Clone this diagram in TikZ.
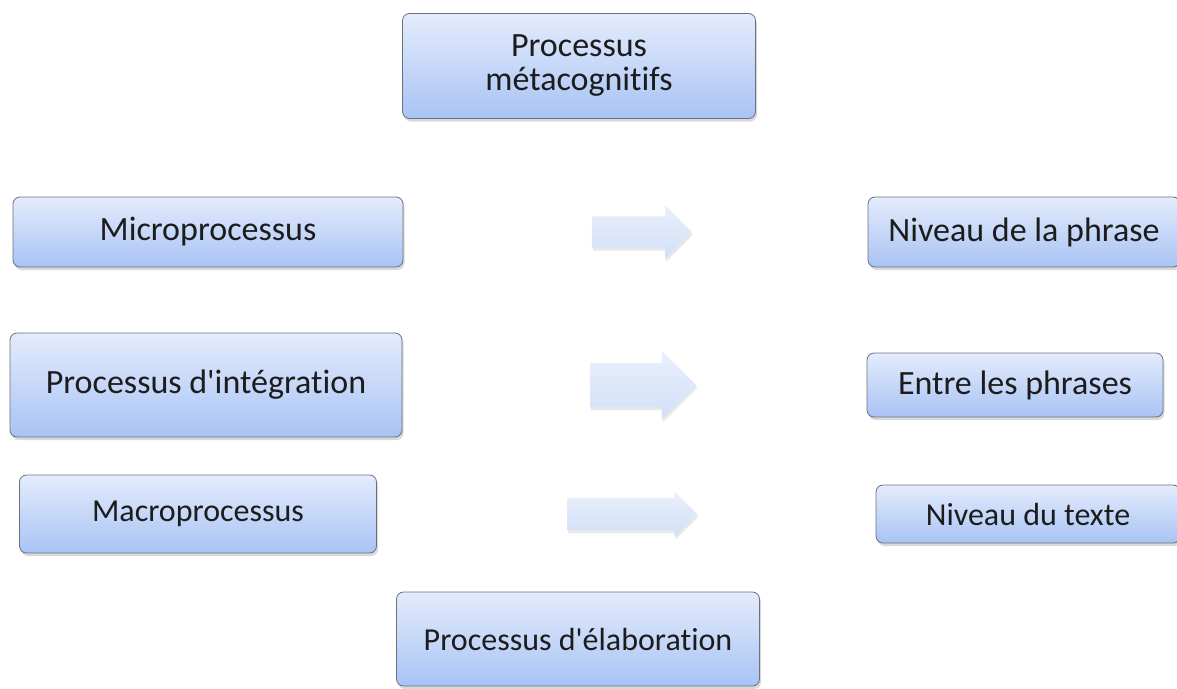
\documentclass[tikz,border=0pt]{standalone}
\usepackage{fontspec}
\setmainfont{Carlito}[Ligatures={TeXOff,CommonOff}]
\usetikzlibrary{shapes.arrows, shadows}
\definecolor{boxtop}{HTML}{E4ECFC}
\definecolor{boxbot}{HTML}{A8C3F4}
\definecolor{boxline}{HTML}{6C707C}
\definecolor{arrtop}{HTML}{E9F0FC}
\definecolor{arrbot}{HTML}{D2DFF8}
\definecolor{txt}{HTML}{1C1C1C}

\begin{document}
\begin{tikzpicture}[x=1pt,y=-1pt]
		\tikzstyle{procbox}=[draw=boxline,line width=0.8pt,rounded corners=7pt,top color=boxtop,bottom color=boxbot,text=txt,align=center,inner sep=0pt,drop shadow={shadow xshift=1.5pt,shadow yshift=-3pt,opacity=0.3}]
		\tikzstyle{bigtext}=[font=\fontsize{34}{34}\selectfont]
		\tikzstyle{smalltext}=[font=\fontsize{32}{34}\selectfont]
		\tikzstyle{levelarrow}=[single arrow,draw=none,top color=arrtop,bottom color=arrbot,inner xsep=0pt,single arrow head indent=0pt,drop shadow={shadow xshift=1pt,shadow yshift=-3pt,opacity=0.18}]
		
		\useasboundingbox (0,0) rectangle (1177,688);
		
		\node[procbox,bigtext,minimum width=353pt,minimum height=105pt] (meta) at (579,66) {Processus\\métacognitifs};
		\node[procbox,bigtext,minimum width=390pt,minimum height=70pt] (micro) at (208,232) {Microprocessus};
		\node[procbox,bigtext,minimum width=392pt,minimum height=104pt] (integ) at (206,385) {Processus d'intégration};
		\node[procbox,smalltext,minimum width=357pt,minimum height=78pt] (macro) at (198,514) {Macroprocessus};
		\node[procbox,smalltext,minimum width=363pt,minimum height=94pt] (elab) at (578,639) {Processus d'élaboration};
		
		\node[procbox,bigtext,minimum width=312pt,minimum height=70pt] (phrase) at (1024,232) {Niveau de la phrase};
		\node[procbox,bigtext,minimum width=296pt,minimum height=64pt] (entre) at (1015,385) {Entre les phrases};
		\node[procbox,smalltext,minimum width=304pt,minimum height=58pt] (texte) at (1028,514) {Niveau du texte};
		
		\node[levelarrow,inner ysep=15.5pt,single arrow head extend=11pt,minimum height=100pt] (a1) at (634,232) {};
		\node[levelarrow,inner ysep=22pt,single arrow head extend=12pt,minimum height=106pt] (a2) at (632,385) {};
		\node[levelarrow,inner ysep=16pt,single arrow head extend=6.5pt,minimum height=130pt] (a3) at (624,514) {};
	
	\end{tikzpicture}
\end{document}
